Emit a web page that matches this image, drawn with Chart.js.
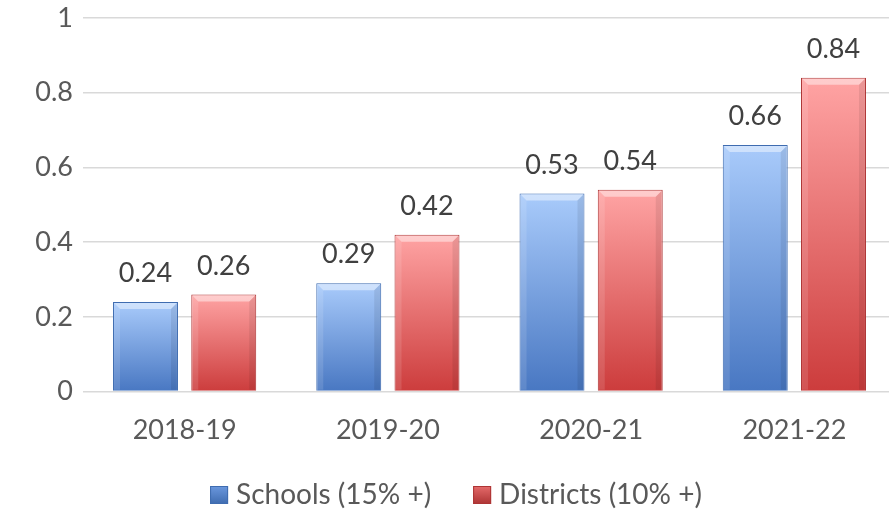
<!DOCTYPE html>
<html>
<head>
<meta charset="utf-8">
<script src="https://cdn.jsdelivr.net/npm/chart.js@4.4.0/dist/chart.umd.min.js"></script>
<style>
  html, body { margin: 0; padding: 0; background: #fff; overflow: hidden; }
  #wrap { width: 896px; height: 509px; }
</style>
</head>
<body>
<div id="wrap"><canvas id="myChart"></canvas></div>
<script>
var years = ["2018-19", "2019-20", "2020-21", "2021-22"];
var schools = [0.24, 0.29, 0.53, 0.66];
var districts = [0.26, 0.42, 0.54, 0.84];
var yTicks = [0, 0.2, 0.4, 0.6, 0.8, 1];

var FONT = "Lato, 'Open Sans', sans-serif";

// vertical gradient for each bar, from the bar top to the zero line
function barFill(top, bottom) {
    return function(ctx) {
        var chart = ctx.chart;
        if (!chart.chartArea || ctx.type !== "data") return top;
        var y = chart.scales.y;
        var y0 = y.getPixelForValue(0);
        var y1 = y.getPixelForValue(ctx.raw);
        var g = chart.ctx.createLinearGradient(0, y1, 0, y0);
        g.addColorStop(0, top);
        g.addColorStop(1, bottom);
        return g;
    };
}

// bevel highlight and value labels
var barExtras = {
    id: "barExtras",
    afterDatasetsDraw: function(chart) {
        var c = chart.ctx;
        chart.data.datasets.forEach(function(ds, i) {
            var meta = chart.getDatasetMeta(i);
            meta.data.forEach(function(bar, j) {
                var w = bar.width, l = bar.x - w / 2, r = bar.x + w / 2;
                var t = bar.y, b = bar.base, bv = 7;
                c.save();
                c.beginPath();
                c.moveTo(l + 1, t + 1);
                c.lineTo(r - 1, t + 1);
                c.lineTo(r - bv, t + bv);
                c.lineTo(l + bv, t + bv);
                c.closePath();
                c.fillStyle = "rgba(255,255,255,0.45)";
                c.fill();
                c.beginPath();
                c.moveTo(l + 1, t + 1);
                c.lineTo(l + bv, t + bv);
                c.lineTo(l + bv, b - 1);
                c.lineTo(l + 1, b - 1);
                c.closePath();
                c.fillStyle = "rgba(255,255,255,0.12)";
                c.fill();
                c.beginPath();
                c.moveTo(r - 1, t + 1);
                c.lineTo(r - bv, t + bv);
                c.lineTo(r - bv, b - 1);
                c.lineTo(r - 1, b - 1);
                c.closePath();
                c.fillStyle = "rgba(0,0,0,0.08)";
                c.fill();
                c.fillStyle = "#404040";
                c.font = "27px " + FONT;
                c.textAlign = "center";
                c.textBaseline = "bottom";
                c.fillText(String(ds.data[j]), bar.x, t - 15);
                c.restore();
            });
        });
    }
};

// legend drawn by hand so the spacing can follow the picture
var bottomLegend = {
    id: "bottomLegend",
    afterDraw: function(chart) {
        var c = chart.ctx;
        var cols = [["#6b98de", "#3f6cb0"], ["#e56b6b", "#ad3434"]];
        c.save();
        c.font = "28px " + FONT;
        var items = chart.data.datasets.map(function(ds, i) {
            return { text: ds.label, w: c.measureText(ds.label).width, col: cols[i] };
        });
        var box = 18, gap = 8, sep = 42;
        var total = 0;
        items.forEach(function(it, i) { total += box + gap + it.w + (i ? 0 : sep); });
        var x = chart.width / 2 + 8 - total / 2;
        var yb = 504;
        items.forEach(function(it) {
            var g = c.createLinearGradient(0, yb - box, 0, yb);
            g.addColorStop(0, it.col[0]);
            g.addColorStop(1, it.col[1]);
            c.fillStyle = g;
            c.fillRect(x, yb - box, box, box);
            c.strokeStyle = it.col[1];
            c.lineWidth = 1;
            c.strokeRect(x + 0.5, yb - box + 0.5, box - 1, box - 1);
            c.fillStyle = "#595959";
            c.textAlign = "left";
            c.textBaseline = "alphabetic";
            c.fillText(it.text, x + box + gap, yb);
            x += box + gap + it.w + sep;
        });
        c.restore();
    }
};

var ctx = document.getElementById("myChart").getContext("2d");
var myChart = new Chart(ctx, {
    type: "bar",
    data: {
        labels: years,
        datasets: [{
            label: "Schools (15% +)",
            data: schools,
            backgroundColor: barFill("#a9cbfb", "#4877c2"),
            borderColor: "#3f6cb0",
            borderWidth: 1,
            categoryPercentage: 0.77,
            barPercentage: 0.83
        }, {
            label: "Districts (10% +)",
            data: districts,
            backgroundColor: barFill("#ffa4a4", "#cc3c3c"),
            borderColor: "#ad3434",
            borderWidth: 1,
            categoryPercentage: 0.77,
            barPercentage: 0.83
        }]
    },
    options: {
        responsive: true,
        maintainAspectRatio: false,
        animation: false,
        layout: { padding: { top: 0, right: 0, left: 0, bottom: 49 } },
        scales: {
            x: {
                grid: { display: false },
                border: { display: false },
                ticks: { color: "#595959", font: { family: FONT, size: 27 }, padding: 14 }
            },
            y: {
                min: 0,
                max: 1,
                afterBuildTicks: function(axis) {
                    axis.ticks = yTicks.map(function(v) { return { value: v }; });
                },
                afterFit: function(axis) {
                    axis.width = 83;
                    axis.paddingTop = 18;
                },
                grid: { color: "#d9d9d9", lineWidth: 1.5, drawTicks: false },
                border: { display: false },
                ticks: {
                    color: "#595959",
                    font: { family: FONT, size: 27 },
                    padding: 10,
                    callback: function(v) { return String(v); }
                }
            }
        },
        plugins: {
            legend: { display: false },
            tooltip: { enabled: false }
        }
    },
    plugins: [barExtras, bottomLegend]
});
</script>
</body>
</html>
